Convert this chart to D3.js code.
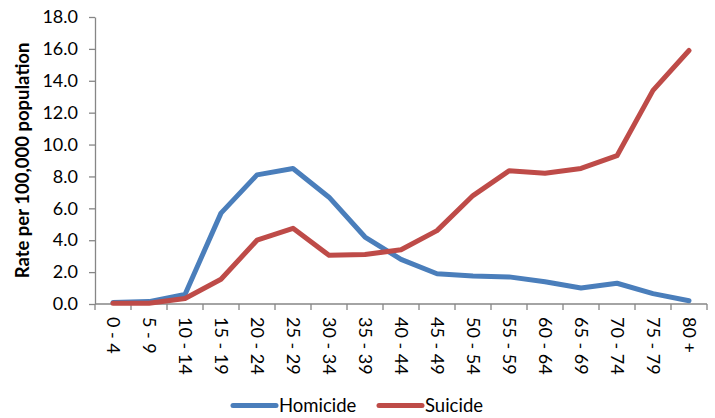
<!DOCTYPE html>
<html>
<head>
<meta charset="utf-8">
<script src="https://cdn.jsdelivr.net/npm/d3@7"></script>
<style>
  html, body { margin: 0; padding: 0; background: #fff; }
  svg { display: block; font-family: Lato, "Open Sans", sans-serif; }
</style>
</head>
<body>
<svg id="chart" width="715" height="418"></svg>
<script>
// Age groups along the x axis
const ageGroups = ["0 - 4", "5 - 9", "10 - 14", "15 - 19", "20 - 24", "25 - 29", "30 - 34", "35 - 39",
  "40 - 44", "45 - 49", "50 - 54", "55 - 59", "60 - 64", "65 - 69", "70 - 74", "75 - 79", "80 +"];

// Rates per 100,000 population
const homicide = [0.1, 0.15, 0.6, 5.7, 8.1, 8.5, 6.7, 4.2, 2.8, 1.9, 1.75, 1.7, 1.4, 1.0, 1.3, 0.65, 0.2];
const suicide  = [0.05, 0.05, 0.35, 1.55, 4.0, 4.75, 3.05, 3.1, 3.4, 4.6, 6.8, 8.35, 8.2, 8.5, 9.3, 13.4, 15.9];

const yTicks = [0, 2, 4, 6, 8, 10, 12, 14, 16, 18];

const series = [
  { name: "Homicide", values: homicide, color: "#4a7ebb" },
  { name: "Suicide",  values: suicide,  color: "#be4b48" }
];

const svg = d3.select("#chart");
const plotLeft = 95, plotRight = 707, plotTop = 17, plotBottom = 304;

const x = d3.scaleBand().domain(ageGroups).range([plotLeft, plotRight]).paddingInner(0).paddingOuter(0);
const y = d3.scaleLinear().domain([0, 18]).range([plotBottom, plotTop]);

const axisColor = "#868686";
const labelSize = 18;

// Y axis
const yAxis = svg.append("g")
  .attr("transform", `translate(${plotLeft},0)`)
  .call(d3.axisLeft(y).tickValues(yTicks).tickFormat(d3.format(".1f")).tickSize(6).tickSizeOuter(0));
yAxis.select(".domain").attr("stroke", axisColor).attr("stroke-width", 1.3);
yAxis.selectAll(".tick line").attr("stroke", axisColor).attr("stroke-width", 1.3);
yAxis.selectAll(".tick text").attr("fill", "#000").attr("font-size", labelSize)
  .attr("font-family", "Lato, sans-serif").attr("x", -17);

// X axis: ticks on band boundaries
const xAxis = svg.append("g").attr("transform", `translate(0,${plotBottom})`);
xAxis.append("line").attr("x1", plotLeft).attr("x2", plotRight).attr("y1", 0).attr("y2", 0)
  .attr("stroke", axisColor).attr("stroke-width", 1.3);
const boundaries = ageGroups.map(d => x(d)).concat([x(ageGroups[ageGroups.length - 1]) + x.bandwidth()]);
xAxis.selectAll("line.tk").data(boundaries).join("line").attr("class", "tk")
  .attr("x1", d => d).attr("x2", d => d).attr("y1", 0).attr("y2", 6)
  .attr("stroke", axisColor).attr("stroke-width", 1.3);
xAxis.selectAll("text").data(ageGroups).join("text")
  .attr("transform", d => `translate(${x(d) + x.bandwidth() / 2},13) rotate(90)`)
  .attr("dy", "0.35em")
  .attr("text-anchor", "start")
  .attr("font-size", labelSize)
  .attr("fill", "#000")
  .text(d => d);

// Y axis title
svg.append("text")
  .attr("transform", `translate(29,${(plotTop + plotBottom) / 2 + 0}) rotate(-90)`)
  .attr("text-anchor", "middle")
  .attr("font-size", 18.5)
  .attr("font-weight", "bold")
  .attr("fill", "#000")
  .text("Rate per 100,000 population");

// Lines
const line = d3.line()
  .x((d, i) => x(ageGroups[i]) + x.bandwidth() / 2)
  .y(d => y(d));

svg.selectAll("path.series").data(series).join("path").attr("class", "series")
  .attr("d", d => line(d.values))
  .attr("fill", "none")
  .attr("stroke", d => d.color)
  .attr("stroke-width", 5)
  .attr("stroke-linejoin", "round")
  .attr("stroke-linecap", "round");

// Legend
const legendItems = [
  { s: series[0], x: 233 },
  { s: series[1], x: 379 }
];
const lg = svg.append("g");
legendItems.forEach(item => {
  lg.append("line")
    .attr("x1", item.x).attr("x2", item.x + 43)
    .attr("y1", 405.5).attr("y2", 405.5)
    .attr("stroke", item.s.color).attr("stroke-width", 5).attr("stroke-linecap", "round");
  lg.append("text")
    .attr("x", item.x + 46).attr("y", 405.5).attr("dy", "0.35em")
    .attr("font-size", 18.5).attr("fill", "#000")
    .text(item.s.name);
});
</script>
</body>
</html>
